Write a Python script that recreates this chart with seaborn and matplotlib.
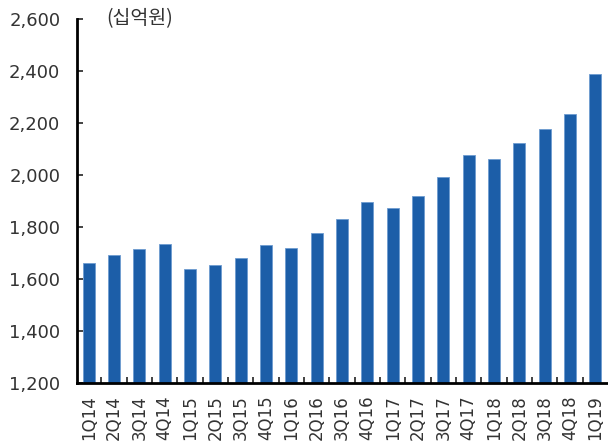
import numpy as np
import matplotlib
matplotlib.use("Agg")
import matplotlib.pyplot as plt
import seaborn as sns
from matplotlib.ticker import FuncFormatter, FixedLocator

sns.set_theme(style="white")
plt.rcParams["font.family"] = ["DejaVu Sans", "Noto Sans CJK KR"]

# 분기별 값 (십억원)
quarters = [
    "1Q14", "2Q14", "3Q14", "4Q14",
    "1Q15", "2Q15", "3Q15", "4Q15",
    "1Q16", "2Q16", "3Q16", "4Q16",
    "1Q17", "2Q17", "3Q17", "4Q17",
    "1Q18", "2Q18", "3Q18", "4Q18",
    "1Q19",
]
values = [
    1660, 1692, 1714, 1735,
    1637, 1655, 1680, 1731,
    1718, 1776, 1830, 1896,
    1873, 1918, 1991, 2076,
    2063, 2124, 2177, 2233,
    2387,
]
y_ticks = [1200, 1400, 1600, 1800, 2000, 2200, 2400, 2600]
unit_label = "(십억원)"

bar_color = "#1c5ea8"
text_color = "#333333"

fig = plt.figure(figsize=(6.08, 4.45), dpi=100)
ax = fig.add_axes([0.1266, 0.1393, 0.8734, 0.8180])

sns.barplot(x=quarters, y=values, color=bar_color, width=0.47,
            saturation=1, ax=ax, edgecolor="#6d9bd0", linewidth=0.6)

ax.set_ylim(y_ticks[0], y_ticks[-1])
ax.set_xlim(-0.46, len(quarters) - 0.5)
ax.set_yticks(y_ticks)
ax.yaxis.set_major_formatter(FuncFormatter(lambda v, p: f"{int(v):,}"))
ax.set_xlabel("")
ax.set_ylabel("")

# x축: 라벨은 막대 중앙, 눈금은 막대 사이
ax.tick_params(axis="x", which="major", length=0, pad=9, labelsize=12,
               labelrotation=90, labelcolor=text_color)
ax.xaxis.set_minor_locator(FixedLocator(np.arange(0.5, len(quarters) - 1, 1.0)))
ax.tick_params(axis="x", which="minor", direction="in", length=4, width=1.2,
               color="#222222", bottom=True)
ax.tick_params(axis="y", which="major", direction="in", length=4, width=1.2,
               pad=12, labelsize=13, labelcolor=text_color, color="#222222",
               left=True)

for side in ["top", "right"]:
    ax.spines[side].set_visible(False)
for side in ["left", "bottom"]:
    ax.spines[side].set_color("black")
    ax.spines[side].set_linewidth(2)

fig.text(0.174, 0.958, unit_label, fontsize=14, color=text_color,
         family=["Noto Sans CJK KR", "DejaVu Sans"], va="center", ha="left")

fig.savefig("out.png", dpi=100)
